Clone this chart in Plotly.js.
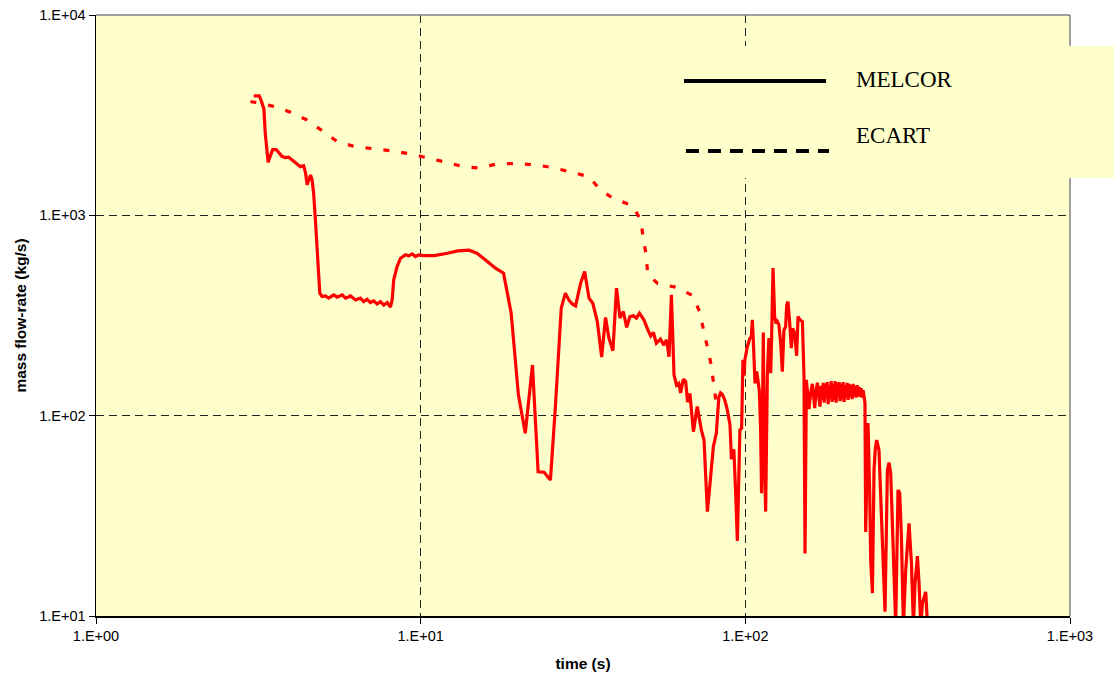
<!DOCTYPE html>
<html>
<head>
<meta charset="utf-8">
<script src="https://cdn.plot.ly/plotly-3.0.1.min.js"></script>
<style>html,body{margin:0;padding:0;background:#fff;}#chart{width:1114px;height:679px;}</style>
</head>
<body>
<div id="chart"></div>
<script>
// ---- Data ----
const ecartTime = [2.99, 3.47, 3.94, 4.45, 4.98, 5.54, 6.30, 7.15, 8.13, 9.24, 10.5, 11.8, 13.5, 15.3, 17.2, 19.7, 22.4, 25.5, 28.9, 32.9, 35.8, 39.3, 44.9, 47.6, 48.6, 49.6, 50.0, 53.7, 61.4, 68.8, 72.3, 74.4, 76.5, 78.7, 79.9, 81.0, 81.6];
const ecartFlow = [3700, 3520, 3290, 3000, 2640, 2330, 2200, 2150, 2100, 2030, 1940, 1850, 1750, 1720, 1810, 1810, 1790, 1730, 1650, 1560, 1340, 1210, 1120, 949, 754, 620, 510, 457, 437, 398, 330, 268, 218, 176, 142, 117, 112];

const melcorTimeA = [3.06,3.18,3.22,3.29,3.32,3.37,3.39,3.44,3.50,3.59,3.65,3.74,3.83,3.92,4.02,4.16,4.26,4.36,4.42,4.47,4.52,4.58,4.63,4.68,4.74,4.80,4.85,4.89,4.97,5.09,5.21,5.40,5.53,5.73,5.87,6.08,6.30,6.52,6.68,6.84,7.00,7.17,7.34,7.52,7.70,7.89,8.07,8.17,8.26,8.46,8.67,8.98,9.19,9.42,9.64,9.87,10.2,11.0,12.1,13.0,14.1];
const melcorFlowA = [3950,3950,3780,3390,2580,1970,1840,1970,2130,2130,2060,1970,1940,1950,1890,1810,1750,1770,1630,1420,1500,1590,1500,1290,949,647,476,409,393,396,386,401,390,401,386,396,378,386,371,381,367,374,361,371,356,367,348,378,476,555,611,635,628,642,623,635,630,630,647,665,670];

const melcorTimeB = [14.9,15.6,16.4,17.0,18.0,19.0,20.0,21.0,22.1,23.0,24.0,25.1,26.0,27.1,27.9,28.6,29.3,30.0,31.1,32.0,33.0,33.9,35.0,36.1,37.1,38.0,39.1,40.1,41.1,42.1,43.1,44.1,45.2,46.2,47.2,48.7,50.1,51.1,52.1,53.2,54.8,56.1,57.2,58.2,59.2,60.3,61.4,62.4,63.2,64.4,65.5,66.4,67.5,69.2,71.1,73.2,74.6,76.4,78.2,79.7,81.4,82.3,82.9,83.9,84.9,86.4,88.0,89.7,90.6,91.2,92.2,93.3,94.5,95.6,96.2,97.4,98.3,99.0,99.7,101.4,103.3,104.3,105.1,105.8,107.1,108.4,109.3,110.4,111.4,112.2,113.6,114.4,115.5,116.9,118.2,119.7,120.5,121.7,123.1,124.3,125.5,126.9,128.5,130.0,131.5,133.1,134.1,135.3,136.9,138.6,139.9,141.9,143.9,145.3,147.3,149.9,151.6,152.7,154.2];
const melcorFlowB = [647,611,572,545,514,325,127,81.7,179,52.5,52.2,47.7,111,344,409,378,361,353,458,524,386,364,295,196,309,244,211,433,307,331,276,312,315,307,325,301,268,250,260,230,241,225,239,197,401,160,142,145,130,152,148,117,129,83.2,111,84.8,75.6,33.2,49.6,70.0,81.7,117,124,130,128,120,107,89.9,60.6,67.4,66.9,42.6,23.7,53.6,84.8,86.5,190,158,190,221,244,246,301,239,145,166,151,134,88.1,41.0,260,67.4,33.2,160,244,163,248,545,312,289,295,284,230,166,268,278,357,371,295,217,273,258,199,312,301,295,157,20.5,151];

const melcorTimeC = [155.6,157.0,159.0,160.9,162.4,163.6,165.3,166.7,168.2,169.8,171.2,172.4,173.7,174.9,176.1,177.4,178.7,179.9,181.2,182.5,183.8,185.1,186.4,187.7,189.1,190.4,191.8,193.1,194.5,195.9,197.3,198.7,200.1,201.5,203.0,204.4,205.9,207.3,208.8,210.3,211.8,213.3,214.8,216.3,217.9,219.4,221.0,222.6,224.2,225.8,227.4,229.0,230.6,232.3,233.6];
const melcorFlowC = [123,108,131,144,124,109,134,146,127,111,141,120,146,116,144,123,147,114,142,121,149,117,144,120,149,116,146,123,147,118,144,121,147,117,142,123,146,120,144,124,142,121,144,125,141,123,142,125,139,124,137,123,134,120,116];

const melcorTimeD = [234.8,238.7,241.6,243.3,246.3,249.1,251.5,253.9,258.0,261.2,264.4,269.3,273.9,277.0,280.4,283.8,287.1,290.5,295.3,298.9,302.5,306.8,311.9,319.3,324.8,329.4,333.2,338.9,342.8,347.0,351.2,359.5,363.9];
const melcorFlowD = [26.3,91.9,41.1,19.0,13.0,53.6,69.0,75.6,67.4,39.4,22.2,10.5,53.6,58.3,51.7,26.9,14.0,9,42.6,41.1,24.9,9,17.0,29.0,18.4,9,14.6,19.9,14.6,9,11.6,13.2,9];

const melcorTime = melcorTimeA.concat(melcorTimeB, melcorTimeC, melcorTimeD);
const melcorFlow = melcorFlowA.concat(melcorFlowB, melcorFlowC, melcorFlowD);

const xTickVals = [1, 10, 100, 1000];
const xTickText = ["1.E+00", "1.E+01", "1.E+02", "1.E+03"];
const yTickVals = [10, 100, 1000, 10000];
const yTickText = ["1.E+01", "1.E+02", "1.E+03", "1.E+04"];
const legendNames = ["MELCOR", "ECART"];

// ---- Chart ----
const sans = "Liberation Sans, Arial, sans-serif";
const serif = "Liberation Serif, Times New Roman, serif";

const traces = [
  {x: melcorTime, y: melcorFlow, type: "scatter", mode: "lines", name: legendNames[0],
   line: {color: "#FF0000", width: 3.2}},
  {x: ecartTime, y: ecartFlow, type: "scatter", mode: "lines", name: legendNames[1],
   line: {color: "#FF0000", width: 3.2, dash: "6px,12px"}}
];

const axisCommon = {
  type: "log", showgrid: true, gridcolor: "#222", gridwidth: 1, griddash: "8px,5px",
  showline: true, linecolor: "#000", linewidth: 1.5, zeroline: false,
  ticks: "outside", ticklen: 6, tickcolor: "#000", tickwidth: 1,
  tickfont: {family: sans, size: 14.5, color: "#000"}
};

const layout = {
  width: 1114, height: 679,
  margin: {l: 96, r: 44, t: 15, b: 63},
  paper_bgcolor: "#FFFFFF", plot_bgcolor: "#FFFFCC",
  showlegend: false,
  xaxis: Object.assign({}, axisCommon, {
    range: [0, 3], tickvals: xTickVals, ticktext: xTickText,
    title: {text: "<b>time (s)</b>", font: {family: sans, size: 15.5, color: "#000"}, standoff: 15}
  }),
  yaxis: Object.assign({}, axisCommon, {
    range: [1, 4], tickvals: yTickVals, ticktext: yTickText,
    title: {text: "<b>mass flow-rate (kg/s)</b>", font: {family: sans, size: 15.5, color: "#000"}, standoff: 9}
  }),
  shapes: [
    // plot-area border (top and right, grey)
    {type: "line", xref: "paper", yref: "paper", x0: 0, x1: 1, y0: 1, y1: 1, line: {color: "#808080", width: 1.5}, layer: "above"},
    {type: "line", xref: "paper", yref: "paper", x0: 1, x1: 1, y0: 0, y1: 1, line: {color: "#808080", width: 1.5}, layer: "above"},
    // legend box
    {type: "rect", xref: "paper", yref: "paper", x0: 0.5893, x1: 1.0452, y0: 0.7288, y1: 0.9484,
     fillcolor: "#FFFFCC", line: {width: 0}, layer: "above"},
    {type: "line", xref: "paper", yref: "paper", x0: 0.6037, x1: 0.7495, y0: 0.8902, y1: 0.8902,
     line: {color: "#000", width: 4}, layer: "above"},
    {type: "line", xref: "paper", yref: "paper", x0: 0.6057, x1: 0.7526, y0: 0.7737, y1: 0.7737,
     line: {color: "#000", width: 4, dash: "13px,9px"}, layer: "above"}
  ],
  annotations: [
    {xref: "paper", yref: "paper", x: 0.7785, y: 0.8927, xanchor: "left", yanchor: "middle",
     text: legendNames[0], showarrow: false, font: {family: serif, size: 23, color: "#000"}},
    {xref: "paper", yref: "paper", x: 0.7785, y: 0.7998, xanchor: "left", yanchor: "middle",
     text: legendNames[1], showarrow: false, font: {family: serif, size: 23, color: "#000"}}
  ]
};

Plotly.newPlot("chart", traces, layout, {displayModeBar: false, staticPlot: true});
</script>
</body>
</html>
